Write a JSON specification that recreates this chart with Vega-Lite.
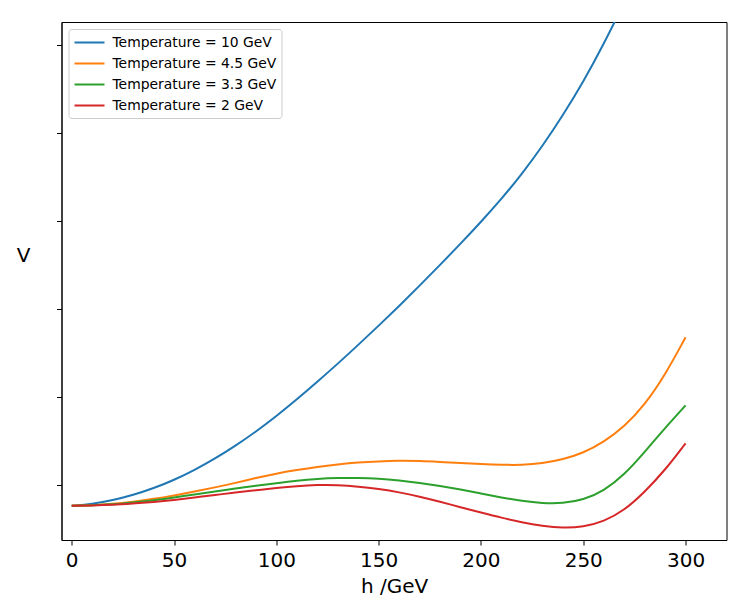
{
  "$schema": "https://vega.github.io/schema/vega-lite/v6.json",
  "width": 665,
  "height": 518,
  "autosize": {"type": "none"},
  "padding": {"left": 61.5, "top": 22, "right": 19.5, "bottom": 68},
  "background": "white",
  "config": {
    "view": {"stroke": "black", "strokeWidth": 1},
    "font": "DejaVu Sans"
  },
  "data": {
    "values": [
      {"T": "Temperature = 10 GeV", "h": 0, "V": -0.235},
      {"T": "Temperature = 10 GeV", "h": 10, "V": -0.216},
      {"T": "Temperature = 10 GeV", "h": 20, "V": -0.174},
      {"T": "Temperature = 10 GeV", "h": 30, "V": -0.114},
      {"T": "Temperature = 10 GeV", "h": 40, "V": -0.038},
      {"T": "Temperature = 10 GeV", "h": 50, "V": 0.057},
      {"T": "Temperature = 10 GeV", "h": 60, "V": 0.17},
      {"T": "Temperature = 10 GeV", "h": 70, "V": 0.3},
      {"T": "Temperature = 10 GeV", "h": 80, "V": 0.445},
      {"T": "Temperature = 10 GeV", "h": 90, "V": 0.606},
      {"T": "Temperature = 10 GeV", "h": 100, "V": 0.782},
      {"T": "Temperature = 10 GeV", "h": 110, "V": 0.972},
      {"T": "Temperature = 10 GeV", "h": 120, "V": 1.172},
      {"T": "Temperature = 10 GeV", "h": 130, "V": 1.378},
      {"T": "Temperature = 10 GeV", "h": 140, "V": 1.591},
      {"T": "Temperature = 10 GeV", "h": 150, "V": 1.81},
      {"T": "Temperature = 10 GeV", "h": 160, "V": 2.034},
      {"T": "Temperature = 10 GeV", "h": 170, "V": 2.264},
      {"T": "Temperature = 10 GeV", "h": 180, "V": 2.5},
      {"T": "Temperature = 10 GeV", "h": 190, "V": 2.741},
      {"T": "Temperature = 10 GeV", "h": 200, "V": 2.989},
      {"T": "Temperature = 10 GeV", "h": 210, "V": 3.249},
      {"T": "Temperature = 10 GeV", "h": 220, "V": 3.534},
      {"T": "Temperature = 10 GeV", "h": 230, "V": 3.849},
      {"T": "Temperature = 10 GeV", "h": 240, "V": 4.199},
      {"T": "Temperature = 10 GeV", "h": 250, "V": 4.58},
      {"T": "Temperature = 10 GeV", "h": 260, "V": 5.01},
      {"T": "Temperature = 10 GeV", "h": 270, "V": 5.48},
      {"T": "Temperature = 4.5 GeV", "h": 0, "V": -0.235},
      {"T": "Temperature = 4.5 GeV", "h": 10, "V": -0.231},
      {"T": "Temperature = 4.5 GeV", "h": 20, "V": -0.216},
      {"T": "Temperature = 4.5 GeV", "h": 30, "V": -0.19},
      {"T": "Temperature = 4.5 GeV", "h": 40, "V": -0.159},
      {"T": "Temperature = 4.5 GeV", "h": 50, "V": -0.119},
      {"T": "Temperature = 4.5 GeV", "h": 60, "V": -0.074},
      {"T": "Temperature = 4.5 GeV", "h": 70, "V": -0.028},
      {"T": "Temperature = 4.5 GeV", "h": 80, "V": 0.023},
      {"T": "Temperature = 4.5 GeV", "h": 90, "V": 0.08},
      {"T": "Temperature = 4.5 GeV", "h": 100, "V": 0.131},
      {"T": "Temperature = 4.5 GeV", "h": 110, "V": 0.17},
      {"T": "Temperature = 4.5 GeV", "h": 120, "V": 0.205},
      {"T": "Temperature = 4.5 GeV", "h": 130, "V": 0.233},
      {"T": "Temperature = 4.5 GeV", "h": 140, "V": 0.256},
      {"T": "Temperature = 4.5 GeV", "h": 150, "V": 0.269},
      {"T": "Temperature = 4.5 GeV", "h": 160, "V": 0.276},
      {"T": "Temperature = 4.5 GeV", "h": 170, "V": 0.273},
      {"T": "Temperature = 4.5 GeV", "h": 180, "V": 0.262},
      {"T": "Temperature = 4.5 GeV", "h": 190, "V": 0.25},
      {"T": "Temperature = 4.5 GeV", "h": 200, "V": 0.238},
      {"T": "Temperature = 4.5 GeV", "h": 210, "V": 0.229},
      {"T": "Temperature = 4.5 GeV", "h": 220, "V": 0.227},
      {"T": "Temperature = 4.5 GeV", "h": 230, "V": 0.244},
      {"T": "Temperature = 4.5 GeV", "h": 240, "V": 0.29},
      {"T": "Temperature = 4.5 GeV", "h": 250, "V": 0.364},
      {"T": "Temperature = 4.5 GeV", "h": 260, "V": 0.489},
      {"T": "Temperature = 4.5 GeV", "h": 270, "V": 0.659},
      {"T": "Temperature = 4.5 GeV", "h": 280, "V": 0.909},
      {"T": "Temperature = 4.5 GeV", "h": 290, "V": 1.25},
      {"T": "Temperature = 4.5 GeV", "h": 300, "V": 1.678},
      {"T": "Temperature = 3.3 GeV", "h": 0, "V": -0.235},
      {"T": "Temperature = 3.3 GeV", "h": 10, "V": -0.232},
      {"T": "Temperature = 3.3 GeV", "h": 20, "V": -0.222},
      {"T": "Temperature = 3.3 GeV", "h": 30, "V": -0.199},
      {"T": "Temperature = 3.3 GeV", "h": 40, "V": -0.176},
      {"T": "Temperature = 3.3 GeV", "h": 50, "V": -0.142},
      {"T": "Temperature = 3.3 GeV", "h": 60, "V": -0.108},
      {"T": "Temperature = 3.3 GeV", "h": 70, "V": -0.074},
      {"T": "Temperature = 3.3 GeV", "h": 80, "V": -0.04},
      {"T": "Temperature = 3.3 GeV", "h": 90, "V": -0.008},
      {"T": "Temperature = 3.3 GeV", "h": 100, "V": 0.021},
      {"T": "Temperature = 3.3 GeV", "h": 110, "V": 0.049},
      {"T": "Temperature = 3.3 GeV", "h": 120, "V": 0.07},
      {"T": "Temperature = 3.3 GeV", "h": 130, "V": 0.081},
      {"T": "Temperature = 3.3 GeV", "h": 140, "V": 0.081},
      {"T": "Temperature = 3.3 GeV", "h": 150, "V": 0.072},
      {"T": "Temperature = 3.3 GeV", "h": 160, "V": 0.051},
      {"T": "Temperature = 3.3 GeV", "h": 170, "V": 0.023},
      {"T": "Temperature = 3.3 GeV", "h": 180, "V": -0.011},
      {"T": "Temperature = 3.3 GeV", "h": 190, "V": -0.051},
      {"T": "Temperature = 3.3 GeV", "h": 200, "V": -0.097},
      {"T": "Temperature = 3.3 GeV", "h": 210, "V": -0.142},
      {"T": "Temperature = 3.3 GeV", "h": 220, "V": -0.182},
      {"T": "Temperature = 3.3 GeV", "h": 230, "V": -0.208},
      {"T": "Temperature = 3.3 GeV", "h": 240, "V": -0.21},
      {"T": "Temperature = 3.3 GeV", "h": 250, "V": -0.17},
      {"T": "Temperature = 3.3 GeV", "h": 260, "V": -0.068},
      {"T": "Temperature = 3.3 GeV", "h": 270, "V": 0.114},
      {"T": "Temperature = 3.3 GeV", "h": 280, "V": 0.375},
      {"T": "Temperature = 3.3 GeV", "h": 290, "V": 0.648},
      {"T": "Temperature = 3.3 GeV", "h": 300, "V": 0.905},
      {"T": "Temperature = 2 GeV", "h": 0, "V": -0.235},
      {"T": "Temperature = 2 GeV", "h": 10, "V": -0.233},
      {"T": "Temperature = 2 GeV", "h": 20, "V": -0.227},
      {"T": "Temperature = 2 GeV", "h": 30, "V": -0.21},
      {"T": "Temperature = 2 GeV", "h": 40, "V": -0.193},
      {"T": "Temperature = 2 GeV", "h": 50, "V": -0.17},
      {"T": "Temperature = 2 GeV", "h": 60, "V": -0.142},
      {"T": "Temperature = 2 GeV", "h": 70, "V": -0.114},
      {"T": "Temperature = 2 GeV", "h": 80, "V": -0.085},
      {"T": "Temperature = 2 GeV", "h": 90, "V": -0.06},
      {"T": "Temperature = 2 GeV", "h": 100, "V": -0.034},
      {"T": "Temperature = 2 GeV", "h": 110, "V": -0.012},
      {"T": "Temperature = 2 GeV", "h": 120, "V": 0.001},
      {"T": "Temperature = 2 GeV", "h": 130, "V": 0.0},
      {"T": "Temperature = 2 GeV", "h": 140, "V": -0.017},
      {"T": "Temperature = 2 GeV", "h": 150, "V": -0.045},
      {"T": "Temperature = 2 GeV", "h": 160, "V": -0.082},
      {"T": "Temperature = 2 GeV", "h": 170, "V": -0.131},
      {"T": "Temperature = 2 GeV", "h": 180, "V": -0.19},
      {"T": "Temperature = 2 GeV", "h": 190, "V": -0.253},
      {"T": "Temperature = 2 GeV", "h": 200, "V": -0.313},
      {"T": "Temperature = 2 GeV", "h": 210, "V": -0.372},
      {"T": "Temperature = 2 GeV", "h": 220, "V": -0.424},
      {"T": "Temperature = 2 GeV", "h": 230, "V": -0.465},
      {"T": "Temperature = 2 GeV", "h": 240, "V": -0.49},
      {"T": "Temperature = 2 GeV", "h": 250, "V": -0.477},
      {"T": "Temperature = 2 GeV", "h": 260, "V": -0.415},
      {"T": "Temperature = 2 GeV", "h": 270, "V": -0.29},
      {"T": "Temperature = 2 GeV", "h": 280, "V": -0.08},
      {"T": "Temperature = 2 GeV", "h": 290, "V": 0.17},
      {"T": "Temperature = 2 GeV", "h": 300, "V": 0.474}
    ]
  },
  "mark": {"type": "line", "clip": true, "strokeWidth": 2, "interpolate": "basis"},
  "encoding": {
    "x": {
      "field": "h",
      "type": "quantitative",
      "scale": {"domain": [-5, 320], "nice": false, "zero": false},
      "axis": {
        "title": "h /GeV",
        "values": [0, 50, 100, 150, 200, 250, 300],
        "grid": false,
        "domainColor": "black",
        "tickColor": "black",
        "tickSize": 5,
        "labelFontSize": 20,
        "labelColor": "black",
        "labelPadding": 5,
        "labelFlush": false,
        "titleFontSize": 20,
        "titleFontWeight": "normal",
        "titleColor": "black",
        "titlePadding": 6
      }
    },
    "y": {
      "field": "V",
      "type": "quantitative",
      "scale": {"domain": [-0.625, 5.261], "nice": false, "zero": false},
      "axis": {
        "title": "V",
        "values": [0, 1, 2, 3, 4, 5],
        "labels": false,
        "grid": false,
        "domainColor": "black",
        "tickColor": "black",
        "tickSize": 5,
        "titleAngle": 0,
        "titleX": -38.5,
        "titleY": 233,
        "titleAlign": "center",
        "titleBaseline": "middle",
        "titleFontSize": 20,
        "titleFontWeight": "normal",
        "titleColor": "black"
      }
    },
    "color": {
      "field": "T",
      "type": "nominal",
      "scale": {
        "domain": ["Temperature = 10 GeV", "Temperature = 4.5 GeV", "Temperature = 3.3 GeV", "Temperature = 2 GeV"],
        "range": ["#1f77b4", "#ff7f0e", "#2ca02c", "#d62728"]
      },
      "legend": {
        "title": null,
        "orient": "top-left",
        "offset": 7,
        "padding": 5,
        "symbolType": "M-1,0L3,0",
        "symbolSize": 225,
        "symbolStrokeWidth": 2,
        "labelFontSize": 13.9,
        "labelColor": "black",
        "labelOffset": 22,
        "labelLimit": 300,
        "rowPadding": 5,
        "strokeColor": "#cccccc",
        "fillColor": "rgba(255,255,255,0.8)",
        "cornerRadius": 3
      }
    }
  }
}
